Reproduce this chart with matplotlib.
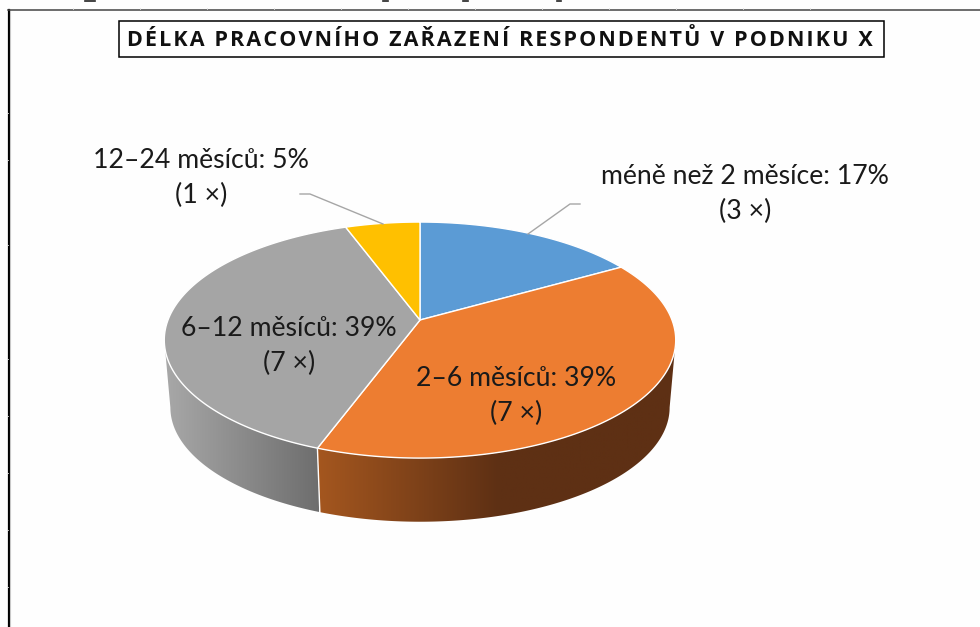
import numpy as np
import matplotlib
import matplotlib.pyplot as plt
from matplotlib.colors import LinearSegmentedColormap
from matplotlib.patches import Polygon

matplotlib.use("Agg")

title = "DÉLKA PRACOVNÍHO ZAŘAZENÍ RESPONDENTŮ V PODNIKU X"
categories = ["méně než 2 měsíce", "2–6 měsíců", "6–12 měsíců", "12–24 měsíců"]
counts = [3, 7, 7, 1]
percents = [17, 39, 39, 5]
colors = ["#5B9BD5", "#ED7D31", "#A5A5A5", "#FFC000"]

label_pos = [(745, 194), (516, 396), (289, 346), (201, 178)]
leaders = [[(580, 204), (570, 204), (528, 234)], [(300, 194), (310, 194), (383, 224)]]
K = 0.17


# circle angle (clockwise from top) -> picture pixels, with a bit of perspective
def rim(theta, cy, a, b, k=K):
    u, v = np.sin(theta), np.cos(theta)
    w = 1 + k * v
    return 420 + a * u / w, cy - b * v / w


def rim_points(t0, t1, cy, a, b):
    x, y = rim(np.linspace(t0, t1, 150), cy, a, b)
    return np.column_stack([x, y])


fig = plt.figure(figsize=(9.8, 6.27), dpi=100, facecolor="#FEFEFE")
ax = fig.add_axes([0, 0, 1, 1])
ax.set_xlim(0, 980)
ax.set_ylim(627, 0)
ax.axis("off")

# page frame, faint ticks and the cut off line of text above it
ax.plot([8.5, 8.5], [9.5, 627], color="black", lw=1.6)
ax.plot([10.2, 10.2], [10, 627], color="#C8C8C8", lw=0.8)
ax.plot([8, 980], [9.5, 9.5], color="#444444", lw=1.1)
for x in range(73, 820, 67):
    ax.plot([x, x], [7.5, 9], color="#E2E2E2", lw=0.6)
for y in [113, 160, 245, 359, 416, 473, 530, 587]:
    ax.plot([6.5, 8], [y, y], color="#E2E2E2", lw=0.6)
for x0, x1 in [(85, 95), (383, 388), (463, 468), (557, 561)]:
    ax.plot([x0, x1], [0.6, 0.6], color="#222222", lw=1.2)

edges = np.cumsum([0] + counts) / sum(counts) * 2 * np.pi

# side wall, only orange and gray are visible. it ends where the rim turns back
turn = np.arctan2(np.sqrt(1 - K ** 2), -K)
side_maps = {
    1: (LinearSegmentedColormap.from_list("o", ["#A5571F", "#5E3014", "#5E3014"]), (316, 680), turn, edges[2]),
    2: (LinearSegmentedColormap.from_list("g", ["#A8A8A8", "#6E6E6E"]), (165, 318), edges[2], 2 * np.pi - turn),
}
for cmap, (x0, x1), t0, t1 in side_maps.values():
    top = rim_points(t0, t1, 320, 252, 114.6)
    low = rim_points(t1, t0, 388, 246, 111)
    poly = Polygon(np.vstack([top, low]), closed=True, fc="none", ec="none")
    ax.add_patch(poly)
    grad = np.linspace(0, 1, 256).reshape(1, -1)
    im = ax.imshow(grad, cmap=cmap, extent=[x0, x1, 530, 260], aspect="auto", zorder=2)
    im.set_clip_path(poly)
ax.set_xlim(0, 980)
ax.set_ylim(627, 0)

# white seam between the two walls
ax.plot(*zip(rim(edges[2], 320, 252, 114.6), rim(edges[2], 388, 246, 111)), color="white", lw=1, zorder=3)

# top surface
for i, c in enumerate(colors):
    pts = rim_points(edges[i], edges[i + 1], 320, 252, 114.6)
    pts = np.vstack([[(420, 320)], pts])
    ax.fill(pts[:, 0], pts[:, 1], fc=c, ec="white", lw=1, zorder=4)

# leader lines
for line in leaders:
    xs, ys = zip(*line)
    ax.plot(xs, ys, color="#A6A6A6", lw=1, zorder=5)

# labels
for name, n, p, pos in zip(categories, counts, percents, label_pos):
    ax.text(pos[0], pos[1], f"{name}: {p}%\n({n} ×)", ha="center", va="center", fontsize=19.2,
            family=["Lato", "DejaVu Sans"], color="#1A1A1A", linespacing=1.5, zorder=6)

# title with letter spacing
ax.text(500, 40, "\u200a".join(title), ha="center", va="center", fontsize=15.5, fontweight="bold",
        family=["Open Sans", "DejaVu Sans"], color="#111111", zorder=6)
ax.add_patch(plt.Rectangle((119, 20.5), 764.5, 36.5, fc="white", ec="black", lw=1.1, zorder=5))

fig.savefig("out.png", dpi=100, facecolor=fig.get_facecolor())
